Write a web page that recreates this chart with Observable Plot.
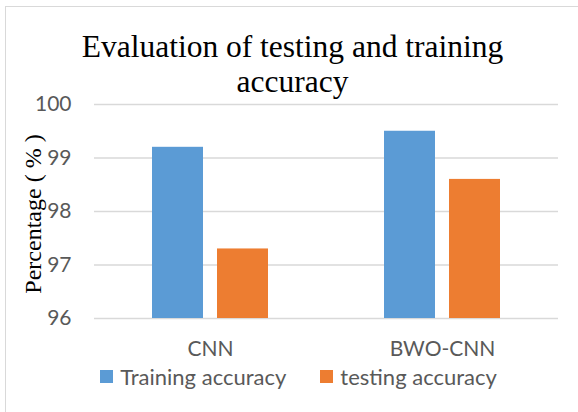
<!DOCTYPE html>
<html>
<head>
<meta charset="utf-8">
<script src="https://cdn.jsdelivr.net/npm/d3@7"></script>
<script src="https://cdn.jsdelivr.net/npm/@observablehq/plot@0.6"></script>
<style>
  body { margin: 0; background: #fff; }
  #wrap { position: relative; width: 578px; height: 412px; overflow: hidden; background: #fff; }
  #frame { position: absolute; left: 5px; top: 6px; width: 600px; height: 500px; border-left: 1.5px solid #d9d9d9; border-top: 1.5px solid #d9d9d9; }
  #title { position: absolute; left: 0; width: 585px; top: 29px; text-align: center; font-family: "Liberation Serif", serif; font-size: 31.5px; line-height: 35px; color: #000; }
  #ylabel { position: absolute; left: 33px; top: 214px; transform: translate(-50%, -50%) rotate(-90deg); white-space: nowrap; font-family: "Liberation Serif", serif; font-size: 24px; color: #000; }
  #legend { position: absolute; left: 0; width: 597px; top: 363px; display: flex; justify-content: center; gap: 34px; font-family: Lato, sans-serif; font-size: 22px; color: #595959; }
  .item { display: flex; align-items: center; gap: 7px; }
  .sw { width: 13px; height: 13px; display: inline-block; }
  #chart { position: absolute; left: 0; top: 0; }
</style>
</head>
<body>
<div id="wrap">
  <div id="frame"></div>
  <div id="chart"></div>
  <div id="title">Evaluation of testing and training<br>accuracy</div>
  <div id="ylabel">Percentage ( % )</div>
  <div id="legend"></div>
</div>
<script>
const models = ["CNN", "BWO-CNN"];
const series = ["Training accuracy", "testing accuracy"];
const trainingValues = [99.2, 99.5];
const testingValues = [97.3, 98.6];
const yTicks = [96, 97, 98, 99, 100];
const colors = ["#5B9BD5", "#ED7D31"];

const data = [];
models.forEach((m, i) => {
  data.push({model: m, series: series[0], value: trainingValues[i]});
  data.push({model: m, series: series[1], value: testingValues[i]});
});

const chart = Plot.plot({
  width: 578,
  height: 412,
  marginLeft: 94,
  marginRight: 20,
  marginTop: 104,
  marginBottom: 94,
  style: {fontFamily: "Lato, sans-serif", fontSize: "21px", color: "#595959", background: "transparent"},
  fx: {domain: models, padding: 0, label: null},
  x: {domain: series, paddingInner: 0.212, paddingOuter: 0.864, axis: null},
  y: {domain: [96, 100], label: null},
  color: {domain: series, range: colors},
  marks: [
    Plot.gridY(yTicks, {stroke: "#d9d9d9", strokeOpacity: 1, strokeWidth: 1.6}),
    Plot.barY(data, {fx: "model", x: "series", y1: 96, y2: "value", fill: "series"}),
    Plot.axisY(yTicks, {tickSize: 0, tickPadding: 23, tickFormat: d3.format("d"), label: null, fill: "#595959"}),
    Plot.axisFx({anchor: "bottom", tickSize: 0, tickPadding: 23, label: null, fill: "#595959"})
  ]
});
document.getElementById("chart").appendChild(chart);

const legend = document.getElementById("legend");
series.forEach((s, i) => {
  const it = document.createElement("div");
  it.className = "item";
  const sw = document.createElement("span");
  sw.className = "sw";
  sw.style.background = colors[i];
  const tx = document.createElement("span");
  tx.textContent = s;
  it.appendChild(sw);
  it.appendChild(tx);
  legend.appendChild(it);
});
</script>
</body>
</html>
